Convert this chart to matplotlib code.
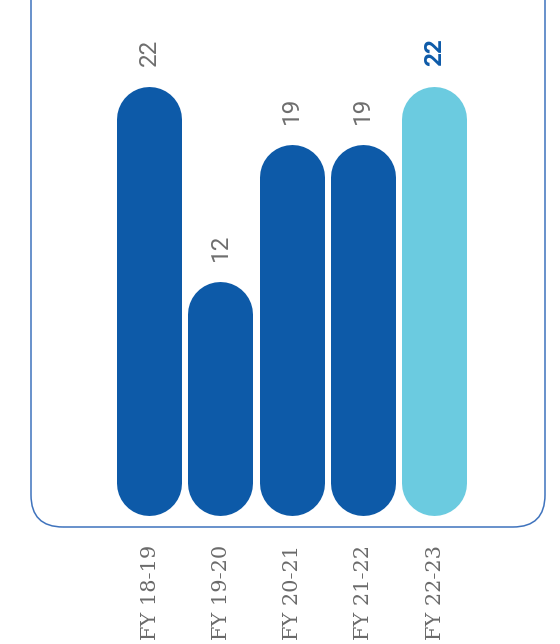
import matplotlib.pyplot as plt
from matplotlib.patches import FancyBboxPatch

# Yearly counts
years = ['FY 18-19', 'FY 19-20', 'FY 20-21', 'FY 21-22', 'FY 22-23']
counts = [22, 12, 19, 19, 22]
bar_colors = ['#0d5aa8', '#0d5aa8', '#0d5aa8', '#0d5aa8', '#6bcbe0']

W, H, DPI = 560, 644, 100
fig = plt.figure(figsize=(W / DPI, H / DPI), dpi=DPI)

# rounded frame drawn on a full-figure overlay (pixel units)
frame = fig.add_axes([0, 0, 1, 1])
frame.set_xlim(0, W)
frame.set_ylim(0, H)
frame.axis('off')
frame.add_patch(FancyBboxPatch((31, 117), 514, 700,
                               boxstyle='round,pad=0,rounding_size=32',
                               fc='none', ec='#3f73bd', lw=1.1))

# main axes: category pitch ~71 px, 19.5 px per unit
pitch = 71.3
px_per_unit = 19.5
x0 = 149 - pitch / 2
ymax = 26
ax = fig.add_axes([x0 / W, 129 / H, 5 * pitch / W, ymax * px_per_unit / H])
ax.set_xlim(-0.5, 4.5)
ax.set_ylim(0, ymax)
ax.axis('off')

bar_px = 65
r = (bar_px / 2) / px_per_unit  # cap radius in data units
for i, (v, c) in enumerate(zip(counts, bar_colors)):
    ax.plot([i, i], [r, v - r], color=c, lw=bar_px * 72 / DPI,
            solid_capstyle='round', clip_on=False)
    last = i == len(counts) - 1
    ax.annotate(str(v), (i, v), xytext=(0, 20), textcoords='offset pixels',
                rotation=90, ha='center', va='bottom',
                fontsize=17.5, family='Roboto',
                fontweight='bold' if last else 'normal',
                color='#0d5aa8' if last else '#6e6e6e')
    ax.annotate(years[i], (i, 0), xytext=(1, -30), textcoords='offset pixels',
                rotation=90, ha='center', va='top', fontsize=15,
                family='DejaVu Serif', color='#6a6a6a')

fig.savefig('out.png', dpi=DPI)
